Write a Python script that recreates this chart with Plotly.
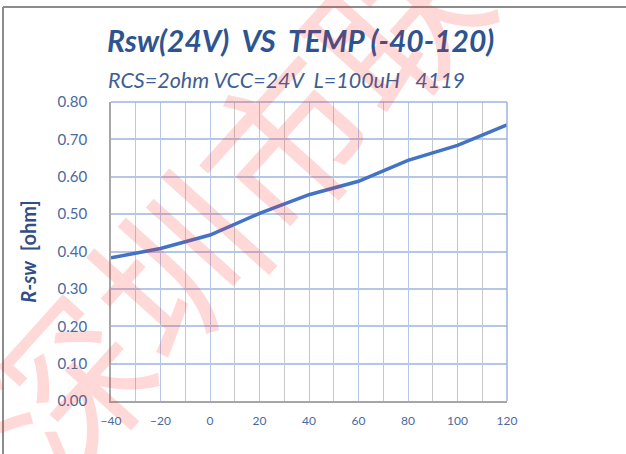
import plotly.graph_objects as go

temp = [-40, -20, 0, 20, 40, 60, 80, 100, 120]
rsw = [0.383, 0.408, 0.444, 0.502, 0.552, 0.588, 0.644, 0.684, 0.739]
title_text = "Rsw(24V)  VS  TEMP (-40-120)"
subtitle_text = "RCS=2ohm VCC=24V  L=100uH   4119"
watermark = "深圳市联"

fig = go.Figure()
fig.add_trace(go.Scatter(x=temp, y=rsw, mode="lines",
                         line=dict(color="#4472C4", width=3.5), hoverinfo="skip"))

fig.update_layout(
    width=626, height=454,
    margin=dict(l=111, r=119, t=102, b=53),
    paper_bgcolor="white", plot_bgcolor="white",
    showlegend=False,
    xaxis=dict(range=[-40, 120], dtick=20, tick0=-40, showgrid=True,
               gridcolor="#B4C7E7", gridwidth=1,
               minor=dict(dtick=10, showgrid=True, gridcolor="#C8C8C8", gridwidth=1),
               showline=True, linecolor="#A6A6A6", linewidth=1.5,
               ticks="outside", ticklen=8, tickcolor="rgba(0,0,0,0)",
               tickfont=dict(family="Lato, sans-serif", size=12, color="#4A6A9C"),
               zeroline=False),
    yaxis=dict(range=[0, 0.8], dtick=0.1, tickformat=".2f", showgrid=True,
               gridcolor="#B4C7E7", gridwidth=1.5,
               showline=True, linecolor="#A6A6A6", linewidth=1.5,
               ticks="outside", ticklen=19, tickcolor="rgba(0,0,0,0)",
               tickfont=dict(family="Lato, sans-serif", size=15, color="#4A6A9C"),
               zeroline=False,
               title=dict(text="<b><i>R-sw</i>  [ohm]</b>",
                          font=dict(family="Lato, sans-serif", size=20, color="#2F4F86"),
                          standoff=16)),
)

# border lines of chart frame
fig.add_shape(type="line", xref="paper", yref="paper", layer="above",
              x0=(3 - 111) / 396, x1=(626 - 111) / 396,
              y0=(401 - 7) / 299, y1=(401 - 7) / 299,
              line=dict(color="#8C8C8C", width=2))
fig.add_shape(type="line", xref="paper", yref="paper", layer="above",
              x0=(3 - 111) / 396, x1=(3 - 111) / 396,
              y0=(401 - 7) / 299, y1=(401 - 460) / 299,
              line=dict(color="#8C8C8C", width=2))
# top/right plot border in blue
fig.add_shape(type="line", xref="paper", yref="paper", x0=0, x1=1, y0=1, y1=1,
              line=dict(color="#9DB5E0", width=1.5))
fig.add_shape(type="line", xref="paper", yref="paper", x0=1, x1=1, y0=0, y1=1,
              line=dict(color="#9DB5E0", width=1.5))

fig.add_annotation(text="<b><i>" + title_text + "</i></b>", xref="paper", yref="paper",
                   x=(300 - 111) / 396, y=(401 - 40) / 299, showarrow=False,
                   font=dict(family="Lato, sans-serif", size=30, color="#2E5490"),
                   xanchor="center", yanchor="middle")
fig.add_annotation(text="<i>" + subtitle_text + "</i>", xref="paper", yref="paper",
                   x=(286 - 111) / 396, y=(401 - 80) / 299, showarrow=False,
                   font=dict(family="Lato, sans-serif", size=21.5, color="#3E5E94"),
                   xanchor="center", yanchor="middle")

# watermark
fig.add_annotation(text=watermark, xref="paper", yref="paper",
                   x=(225 - 111) / 396, y=(401 - 200) / 299, showarrow=False,
                   textangle=-48,
                   font=dict(family="Noto Sans CJK SC", size=165, color="rgba(255,40,40,0.18)"),
                   xanchor="center", yanchor="middle")

fig.write_html("out.html", config={"displayModeBar": False},
               post_script="document.body.style.margin='0';")
